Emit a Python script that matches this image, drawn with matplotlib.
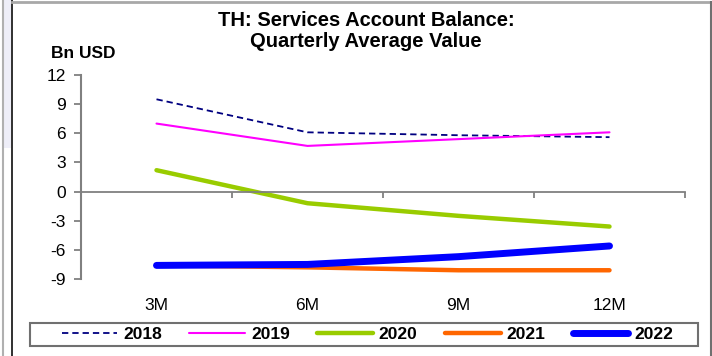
import matplotlib
matplotlib.use("Agg")
import matplotlib.pyplot as plt
from matplotlib.lines import Line2D
from matplotlib.patches import Rectangle

plt.rcParams['font.family'] = ['Liberation Sans', 'DejaVu Sans']

# Data (Bn USD, quarterly average of the services account balance)
periods = ["3M", "6M", "9M", "12M"]
years = ["2018", "2019", "2020", "2021", "2022"]
v2018 = [9.5, 6.1, 5.8, 5.6]
v2019 = [7.0, 4.7, 5.4, 6.1]
v2020 = [2.2, -1.2, -2.5, -3.6]
v2021 = [-7.6, -7.8, -8.1, -8.1]
v2022 = [-7.6, -7.5, -6.7, -5.6]
y_ticks = [12, 9, 6, 3, 0, -3, -6, -9]

series = [v2018, v2019, v2020, v2021, v2022]
styles = [
    dict(color="#000080", lw=1.3, ls=(0, (3.5, 2.2))),
    dict(color="#FF00FF", lw=1.5, ls="-"),
    dict(color="#99CC00", lw=3.2, ls="-"),
    dict(color="#FF6600", lw=3.2, ls="-"),
    dict(color="#0000FF", lw=5.0, ls="-"),
]

W, H = 712, 356
fig = plt.figure(figsize=(W / 100, H / 100), dpi=100)

# Outer frame decorations
fig.patches.append(Rectangle((4 / W, 1 - 148 / H), 7 / W, 148 / H,
                             transform=fig.transFigure, color="#EEEEF8", lw=0, zorder=0))
fig.lines.append(Line2D([2.5 / W, 2.5 / W], [0, 1], transform=fig.transFigure,
                        color="#B0B0B0", lw=1.5))
fig.lines.append(Line2D([11.5 / W, 11.5 / W], [0, 1], transform=fig.transFigure,
                        color="#202020", lw=1.3))
fig.lines.append(Line2D([11.5 / W, 1], [1 - 2 / H, 1 - 2 / H], transform=fig.transFigure,
                        color="#A8A8A8", lw=2))
fig.lines.append(Line2D([711 / W, 711 / W], [0, 1 - 2 / H], transform=fig.transFigure,
                        color="#707070", lw=1.5))

left, right, top, bottom = 81, 685, 75, 279
ax = fig.add_axes([left / W, 1 - bottom / H, (right - left) / W, (bottom - top) / H])

x = [i + 0.5 for i in range(len(periods))]
handles = []
for yr, vals, st in zip(years, series, styles):
    h, = ax.plot(x, vals, label=yr, solid_capstyle="round", dash_capstyle="butt", **st)
    handles.append(h)

ax.set_xlim(0, len(periods))
ax.set_ylim(min(y_ticks), max(y_ticks))
ax.set_yticks(y_ticks)
ax.set_yticklabels([str(t) for t in y_ticks])

for s in ("top", "right"):
    ax.spines[s].set_visible(False)
ax.spines["left"].set_color("#808080")
ax.spines["left"].set_linewidth(1.5)
ax.spines["bottom"].set_position(("data", 0))
ax.spines["bottom"].set_color("#808080")
ax.spines["bottom"].set_linewidth(1.3)

ax.tick_params(axis="y", direction="out", length=5, width=1.3, color="#808080",
               labelsize=12.5, pad=6)
ax.set_xticks(range(len(periods) + 1))
ax.set_xticklabels([])
ax.tick_params(axis="x", direction="out", length=4, width=1.3, color="#808080")

# Category labels below the plotting area
sec = ax.secondary_xaxis("bottom")
sec.spines["bottom"].set_visible(False)
sec.set_xticks(x)
sec.set_xticklabels(periods)
sec.tick_params(length=0, labelsize=12.5, pad=14)

fig.text(366 / W, 1 - 31 / H, "TH: Services Account Balance:\nQuarterly Average Value",
         ha="center", va="center", fontsize=14.5, fontweight="bold", linespacing=1.1)
fig.text(83 / W, 1 - 53 / H, "Bn USD", ha="center", va="center",
         fontsize=12.5, fontweight="bold")

# Legend box with wide side padding
fig.patches.append(Rectangle((30 / W, 1 - 346 / H), 668 / W, 23 / H,
                             transform=fig.transFigure, facecolor="white",
                             edgecolor="#707070", lw=1.5, zorder=1))
leg = fig.legend(handles=handles, loc="center", ncol=5,
                 bbox_to_anchor=(367.5 / W, 1 - 334.5 / H),
                 prop=dict(size=12.5, weight="bold"),
                 handlelength=3.2, handletextpad=0.35, columnspacing=1.58,
                 borderpad=0.2, frameon=False)
leg.set_zorder(2)

fig.savefig("out.png", dpi=100)
